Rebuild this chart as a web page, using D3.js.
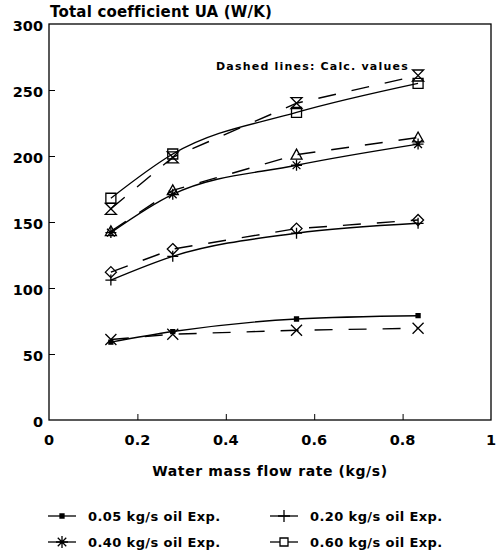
<!DOCTYPE html>
<html>
<head>
<meta charset="utf-8">
<script src="https://cdn.jsdelivr.net/npm/d3@7"></script>
<style>
  body { margin: 0; background: #fff; }
  text { font-family: "DejaVu Sans", "Liberation Sans", sans-serif; font-weight: bold; fill: #000; }
</style>
</head>
<body>
<div id="chart"></div>
<script>
// water mass flow rate (kg/s)
const flowRates = [0.14, 0.28, 0.56, 0.835];

// measured UA (W/K), solid lines
const exp005 = [59, 67, 76.5, 79];
const exp020 = [106, 124, 141.5, 149];
const exp040 = [142, 171, 193, 209];
const exp060 = [168, 201.5, 233, 255];

// calculated UA (W/K), dashed lines
const calc005 = [61, 65, 68, 69.5];
const calc020 = [112, 129.5, 145, 151.5];
const calc040 = [143, 174, 201, 214];
const calc060 = [160, 199, 240, 261];

const xTicks = [0, 0.2, 0.4, 0.6, 0.8, 1];
const yTicks = [0, 50, 100, 150, 200, 250, 300];

const legendLabels = ['0.05 kg/s oil Exp.', '0.20 kg/s oil Exp.', '0.40 kg/s oil Exp.', '0.60 kg/s oil Exp.'];

const width = 498, height = 558;
const margin = { top: 24, right: 7, bottom: 138, left: 49 };

const svg = d3.select('#chart').append('svg')
    .attr('width', width)
    .attr('height', height);

const x = d3.scaleLinear().domain([0, 1]).range([margin.left, width - margin.right]);
const y = d3.scaleLinear().domain([0, 300]).range([height - margin.bottom, margin.top]);

// frame
svg.append('rect')
    .attr('x', x(0)).attr('y', y(300))
    .attr('width', x(1) - x(0)).attr('height', y(0) - y(300))
    .attr('fill', 'none').attr('stroke', '#000').attr('stroke-width', 1.3);

// ticks point into the plot
svg.append('g')
    .attr('transform', `translate(0,${y(0)})`)
    .call(d3.axisTop(x).tickValues(xTicks.slice(1, -1)).tickSize(6).tickFormat(''))
    .call(g => g.select('.domain').remove());
svg.append('g')
    .attr('transform', `translate(${x(0)},0)`)
    .call(d3.axisRight(y).tickValues(yTicks.slice(1, -1)).tickSize(6).tickFormat(''))
    .call(g => g.select('.domain').remove());

svg.selectAll('.xlab')
    .data(xTicks)
    .enter().append('text')
    .attr('x', d => x(d))
    .attr('y', y(0) + 25)
    .attr('text-anchor', 'middle')
    .attr('font-size', 14.5)
    .text(d => d3.format('')(d));

svg.selectAll('.ylab')
    .data(yTicks)
    .enter().append('text')
    .attr('x', x(0) - 6)
    .attr('y', d => y(d) + 7)
    .attr('text-anchor', 'end')
    .attr('font-size', 14.5)
    .text(d => d);

svg.append('text')
    .attr('x', 50).attr('y', 17)
    .attr('font-size', 15)
    .attr('letter-spacing', 0.2)
    .text('Total coefficient UA (W/K)');

svg.append('text')
    .attr('x', (x(0) + x(1)) / 2).attr('y', 476)
    .attr('text-anchor', 'middle')
    .attr('font-size', 14)
    .attr('letter-spacing', 0.6)
    .text('Water mass flow rate (kg/s)');

svg.append('text')
    .attr('x', 216).attr('y', 70)
    .attr('font-size', 11)
    .attr('letter-spacing', 1.2)
    .text('Dashed lines: Calc. values');

// marker shapes
const markers = {
    dot: s => `M${-2},${-2}h4v4h-4z`,
    plus: s => `M${-s},0H${s}M0,${-s}V${s}`,
    star: s => {
        let p = '';
        for (let i = 0; i < 4; i++) {
            const a = i * Math.PI / 4;
            p += `M${-s * Math.cos(a)},${-s * Math.sin(a)}L${s * Math.cos(a)},${s * Math.sin(a)}`;
        }
        return p;
    },
    square: s => `M${-s},${-s}h${2 * s}v${2 * s}h${-2 * s}z`,
    cross: s => `M${-s},${-s}L${s},${s}M${s},${-s}L${-s},${s}`,
    diamond: s => `M0,${-s}L${s},0L0,${s}L${-s},0z`,
    triangle: s => `M0,${-s}L${s},${s * 0.8}L${-s},${s * 0.8}z`,
    hourglass: s => `M${-s},${-s}H${s}L${-s},${s}H${s}z`
};

const series = [
    { values: exp005, marker: 'dot', dashed: false, fill: '#000' },
    { values: exp020, marker: 'plus', dashed: false },
    { values: exp040, marker: 'star', dashed: false },
    { values: exp060, marker: 'square', dashed: false },
    { values: calc005, marker: 'cross', dashed: true },
    { values: calc020, marker: 'diamond', dashed: true },
    { values: calc040, marker: 'triangle', dashed: true },
    { values: calc060, marker: 'hourglass', dashed: true }
];

const solidLine = d3.line()
    .x((d, i) => x(flowRates[i]))
    .y(d => y(d))
    .curve(d3.curveMonotoneX);
const dashLine = d3.line()
    .x((d, i) => x(flowRates[i]))
    .y(d => y(d));

series.forEach(s => {
    svg.append('path')
        .attr('d', s.dashed ? dashLine(s.values) : solidLine(s.values))
        .attr('fill', 'none')
        .attr('stroke', '#000')
        .attr('stroke-width', 1.4)
        .attr('stroke-dasharray', s.dashed ? '18,16' : null);

    svg.selectAll(null)
        .data(s.values)
        .enter().append('path')
        .attr('transform', (d, i) => `translate(${x(flowRates[i])},${y(d)})`)
        .attr('d', markers[s.marker](s.marker === 'square' ? 5 : 5.5))
        .attr('fill', s.fill || '#fff')
        .attr('fill-opacity', s.fill ? 1 : 0)
        .attr('stroke', '#000')
        .attr('stroke-width', 1.3);
});

// legend
const legendPos = [[48, 516], [270, 516], [48, 542], [270, 542]];
const legendMarkers = ['dot', 'plus', 'star', 'square'];
legendLabels.forEach((label, i) => {
    const [lx, ly] = legendPos[i];
    const g = svg.append('g').attr('transform', `translate(${lx},${ly})`);
    g.append('line')
        .attr('x1', 0).attr('x2', 28).attr('y1', 0).attr('y2', 0)
        .attr('stroke', '#000').attr('stroke-width', 1.3);
    g.append('path')
        .attr('transform', 'translate(14,0)')
        .attr('d', markers[legendMarkers[i]](i === 3 ? 4 : 6))
        .attr('fill', i === 0 ? '#000' : '#fff')
        .attr('stroke', '#000')
        .attr('stroke-width', 1.3);
    g.append('text')
        .attr('x', 40).attr('y', 5)
        .attr('font-size', 13)
        .attr('letter-spacing', 0.4)
        .text(label);
});
</script>
</body>
</html>
